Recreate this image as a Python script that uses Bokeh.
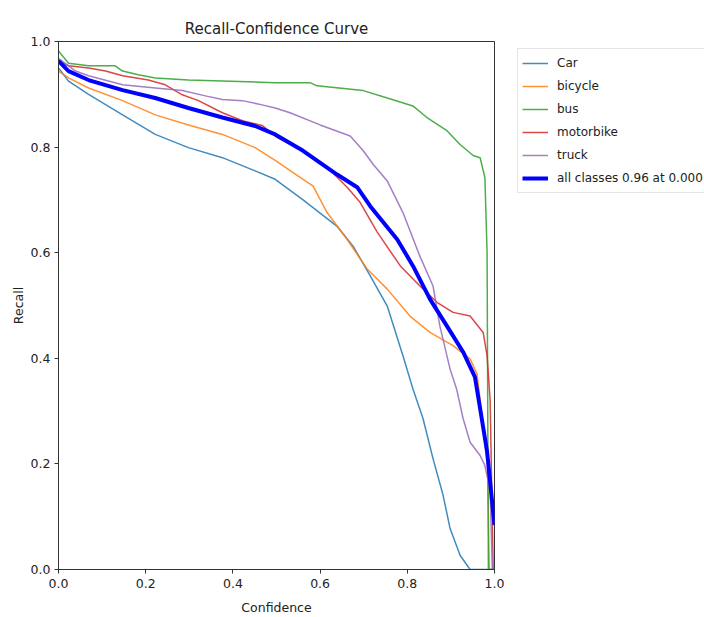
from bokeh.plotting import figure
from bokeh.layouts import row
from bokeh.models import Legend, LegendItem, FixedTicker, NumeralTickFormatter, Range1d
from bokeh.embed import file_html
from bokeh.resources import INLINE

# ---- data ----
car_x = [0, 0.023, 0.069, 0.147, 0.222, 0.298, 0.376, 0.451, 0.497, 0.561, 0.639, 0.676, 0.715, 0.754, 0.79, 0.813, 0.836, 0.859, 0.882, 0.898, 0.921, 0.944, 1.0]
car_y = [0.95, 0.925, 0.90, 0.861, 0.824, 0.799, 0.78, 0.755, 0.739, 0.70, 0.65, 0.612, 0.556, 0.499, 0.405, 0.342, 0.286, 0.21, 0.141, 0.078, 0.027, 0.0, 0.0]

bicycle_x = [0, 0.023, 0.069, 0.147, 0.222, 0.298, 0.376, 0.451, 0.497, 0.561, 0.584, 0.616, 0.662, 0.708, 0.754, 0.806, 0.852, 0.905, 0.944, 0.96, 0.984, 0.988, 1.0]
bicycle_y = [0.944, 0.931, 0.912, 0.888, 0.861, 0.842, 0.824, 0.799, 0.775, 0.739, 0.726, 0.676, 0.625, 0.569, 0.531, 0.48, 0.449, 0.424, 0.399, 0.37, 0.20, 0.0, 0.0]

bus_x = [0, 0.023, 0.069, 0.13, 0.147, 0.183, 0.222, 0.298, 0.376, 0.497, 0.577, 0.593, 0.699, 0.754, 0.813, 0.845, 0.891, 0.921, 0.951, 0.967, 0.978, 0.983, 0.986, 1.0]
bus_y = [0.982, 0.959, 0.954, 0.954, 0.944, 0.937, 0.931, 0.927, 0.925, 0.922, 0.922, 0.916, 0.907, 0.893, 0.878, 0.856, 0.831, 0.805, 0.784, 0.78, 0.742, 0.60, 0.0, 0.0]

motorbike_x = [0, 0.023, 0.069, 0.108, 0.147, 0.206, 0.245, 0.284, 0.321, 0.376, 0.422, 0.467, 0.502, 0.561, 0.623, 0.662, 0.692, 0.731, 0.784, 0.829, 0.868, 0.905, 0.944, 0.974, 0.983, 0.99, 0.997]
motorbike_y = [0.963, 0.954, 0.95, 0.944, 0.935, 0.927, 0.918, 0.899, 0.888, 0.865, 0.85, 0.841, 0.818, 0.793, 0.756, 0.724, 0.695, 0.639, 0.575, 0.537, 0.506, 0.487, 0.48, 0.449, 0.405, 0.32, 0.0]

truck_x = [0, 0.039, 0.069, 0.147, 0.222, 0.284, 0.337, 0.376, 0.422, 0.467, 0.497, 0.531, 0.6, 0.669, 0.699, 0.722, 0.754, 0.79, 0.829, 0.859, 0.875, 0.898, 0.913, 0.928, 0.944, 0.967, 0.978, 0.99, 0.995]
truck_y = [0.968, 0.944, 0.935, 0.918, 0.912, 0.907, 0.897, 0.89, 0.888, 0.88, 0.874, 0.865, 0.842, 0.821, 0.793, 0.767, 0.736, 0.676, 0.593, 0.537, 0.46, 0.38, 0.342, 0.286, 0.241, 0.216, 0.197, 0.15, 0.0]

all_x = [0, 0.023, 0.069, 0.147, 0.222, 0.298, 0.376, 0.451, 0.497, 0.561, 0.639, 0.685, 0.715, 0.777, 0.813, 0.852, 0.891, 0.928, 0.955, 0.967, 0.983, 1.0]
all_y = [0.963, 0.944, 0.927, 0.908, 0.893, 0.874, 0.856, 0.84, 0.824, 0.793, 0.748, 0.724, 0.688, 0.625, 0.575, 0.512, 0.461, 0.412, 0.365, 0.305, 0.223, 0.084]

series_names = ["Car", "bicycle", "bus", "motorbike", "truck", "all classes 0.96 at 0.000"]
series_colors = ["#1f77b4", "#ff7f0e", "#2ca02c", "#d62728", "#9467bd", "#0000ff"]
ticks = [0.0, 0.2, 0.4, 0.6, 0.8, 1.0]

FONT = "DejaVu Sans"
TXT = "#222222"

fig = figure(width=504, height=617, output_backend="svg", toolbar_location=None,
             x_range=Range1d(0, 1), y_range=Range1d(0, 1),
             min_border_left=58, min_border_right=10, min_border_top=41, min_border_bottom=46,
             title="Recall-Confidence Curve")
fig.title.align = "center"
fig.title.text_font = FONT
fig.title.text_font_size = "15px"
fig.title.text_font_style = "normal"
fig.title.text_color = TXT
fig.title.standoff = 8

fig.xgrid.visible = False
fig.ygrid.visible = False
fig.outline_line_color = "#333333"
fig.outline_line_width = 1
fig.outline_line_alpha = 1
fig.background_fill_color = "white"
fig.border_fill_color = "white"

for ax in (fig.xaxis[0], fig.yaxis[0]):
    ax.ticker = FixedTicker(ticks=ticks)
    ax.formatter = NumeralTickFormatter(format="0.0")
    ax.major_tick_in = 0
    ax.major_tick_out = 4
    ax.minor_tick_line_color = None
    ax.axis_line_color = "#333333"
    ax.major_tick_line_color = "#333333"
    ax.major_label_text_font = FONT
    ax.major_label_text_font_size = "12.5px"
    ax.major_label_text_color = TXT
    ax.axis_label_text_font = FONT
    ax.axis_label_text_font_size = "12.5px"
    ax.axis_label_text_font_style = "normal"
    ax.axis_label_text_color = TXT

fig.xaxis.axis_label = "Confidence"
fig.yaxis.axis_label = "Recall"
fig.xaxis.major_label_standoff = 5
fig.xaxis.axis_label_standoff = 9
fig.yaxis.major_label_standoff = 4
fig.yaxis.axis_label_standoff = 2

xs = [car_x, bicycle_x, bus_x, motorbike_x, truck_x, all_x]
ys = [car_y, bicycle_y, bus_y, motorbike_y, truck_y, all_y]
widths = [1.5, 1.5, 1.5, 1.5, 1.5, 4]
alphas = [0.85, 0.85, 0.85, 0.85, 0.85, 1.0]
for x, y, c, w, a in zip(xs, ys, series_colors, widths, alphas):
    fig.line(x, y, line_color=c, line_width=w, line_alpha=a)

# legend panel to the right of the axes (outside the plot box, as in the reference);
# its proxy lines use the same data but lie outside this panel's ranges, so only the legend shows
lf = figure(width=200, height=617, output_backend="svg", toolbar_location=None,
            x_range=Range1d(5, 6), y_range=Range1d(5, 6),
            x_axis_type=None, y_axis_type=None,
            min_border_left=0, min_border_right=0, min_border_top=41, min_border_bottom=46,
            outline_line_color=None)
lf.xgrid.visible = False
lf.ygrid.visible = False
items = []
for x, y, name, c, w, a in zip(xs, ys, series_names, series_colors, widths, alphas):
    r = lf.line(x, y, line_color=c, line_width=w, line_alpha=a)
    items.append(LegendItem(label=name, renderers=[r]))

legend = Legend(items=items, location=(13, 376), orientation="vertical")
legend.label_text_font = FONT
legend.label_text_font_size = "12px"
legend.label_text_color = TXT
legend.glyph_width = 26
legend.glyph_height = 20
legend.label_height = 20
legend.spacing = 3
legend.label_standoff = 9
legend.padding = 4
legend.margin = 0
legend.border_line_color = "#cccccc"
legend.border_line_width = 1
legend.background_fill_alpha = 0.8
lf.add_layout(legend, "center")

p = row(fig, lf)

open("out.html", "w").write(file_html(p, INLINE))
